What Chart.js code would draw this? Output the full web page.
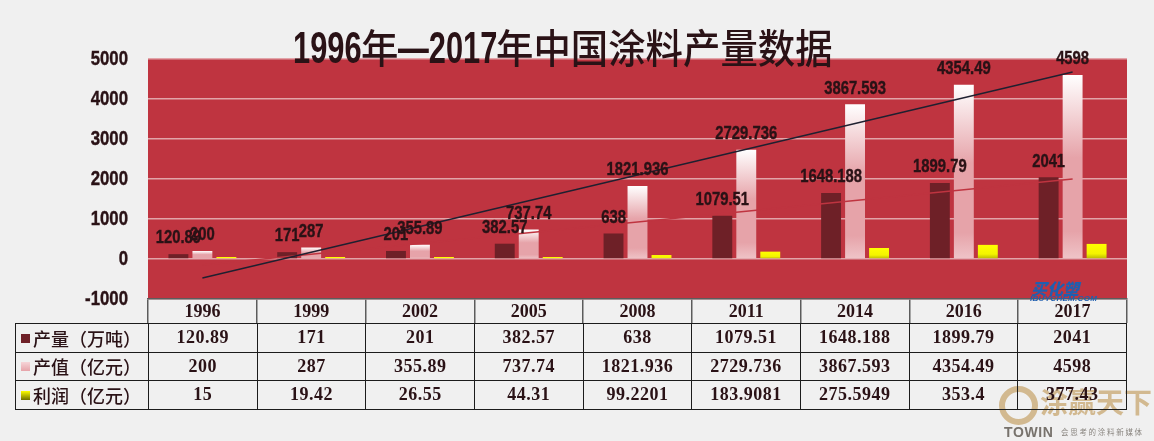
<!DOCTYPE html>
<html lang="zh">
<head>
<meta charset="utf-8">
<title>1996年—2017年中国涂料产量数据</title>
<script src="https://cdn.jsdelivr.net/npm/chart.js@4"></script>
<style>
  html, body { margin: 0; padding: 0; background: #f0f0f0; }
  #wrap { position: relative; width: 1154px; height: 441px; overflow: hidden; }
  #chart { position: absolute; left: 0; top: 0; }
  #title {
    position: absolute; left: 293px; top: 17px; white-space: nowrap; line-height: 56px;
    color: #2a1216;
  }
  #title span { display: inline-block; transform-origin: left center; white-space: nowrap; }
  #title .num { font: 700 44px "Liberation Sans", sans-serif; transform: scaleX(0.7); }
  #title .han { font: 500 40px "Noto Sans CJK SC", sans-serif; transform: scaleX(0.935); }
  table {
    position: absolute; left: 15px; top: 323px; width: 1112px; table-layout: fixed;
    border-collapse: collapse; font: 700 18px "Liberation Serif", "Noto Sans CJK SC", serif;
    color: #2a1216; letter-spacing: 0.5px;
  }
  td { border: 1.5px solid #1c1c1c; height: 27.5px; padding: 0; text-align: center; }
  td.head { text-align: left; white-space: nowrap; font: 500 18px "Noto Sans CJK SC", sans-serif; letter-spacing: 0; }
  .key { display: inline-block; width: 9px; height: 9px; margin: 0 3px 5px 5px; vertical-align: middle; }
  .mark { position: absolute; white-space: nowrap; }
</style>
</head>
<body>
<div id="wrap">
  <canvas id="chart" width="1154" height="441"></canvas>
  <div id="title"><span class="num" style="width:68px">1996</span><span class="han" style="width:37px">年</span><span class="num" style="width:98px">—2017</span><span class="han" style="width:337px">年中国涂料产量数据</span></div>
  <div class="mark" style="left:1031px;top:276px;font:italic 900 16px 'Noto Sans CJK SC';color:#1f5fb0">买化塑</div>
  <div class="mark" style="left:1030px;top:294px;font:italic 700 8px 'Liberation Sans';color:#1f5fb0;letter-spacing:.3px">IBUYCHEM.COM</div>
  <div class="mark" style="left:999px;top:386px;width:27px;height:27px;border:6px solid #d2b990;border-radius:50%"></div>
  <div class="mark" style="left:1040px;top:381px;font:700 28px 'Noto Sans CJK SC';color:#d2b990">涂赢天下</div>
  <div class="mark" style="left:1004px;top:424px;font:700 14px 'Liberation Sans';color:#77726c;letter-spacing:.6px">TOWIN</div>
  <div class="mark" style="left:1061px;top:426px;font:400 7.5px 'Noto Sans CJK SC';color:#8a8680;letter-spacing:1.7px">会思考的涂料新媒体</div>
  <table id="dataTable"></table>
</div>
<script>
const years = ["1996", "1999", "2002", "2005", "2008", "2011", "2014", "2016", "2017"];
const output = [120.89, 171, 201, 382.57, 638, 1079.51, 1648.188, 1899.79, 2041];
const outputValue = [200, 287, 355.89, 737.74, 1821.936, 2729.736, 3867.593, 4354.49, 4598];
const profit = [15, 19.42, 26.55, 44.31, 99.2201, 183.9081, 275.5949, 353.4, 377.43];
const valueTrend = [-475, null, null, null, null, null, null, null, 4675];
const outputTrend = [-150, null, null, null, null, null, null, null, 2000];

const rowNames = ["产量（万吨）", "产值（亿元）", "利润（亿元）"];
const rowKeys = [
  "#6e2027",
  "linear-gradient(#f6d5d8, #e6a3a9)",
  "linear-gradient(#ffff00, #6f6f00)"
];

// each bar gets its own gradient, top of bar to the zero line
function barGradient(stops) {
  return function (ctx) {
    const y = ctx.chart.scales.y;
    if (!y || ctx.type !== "data") return stops[0][1];
    const top = y.getPixelForValue(ctx.dataset.data[ctx.dataIndex]);
    const bottom = y.getPixelForValue(0);
    if (!isFinite(top) || !isFinite(bottom)) return stops[0][1];
    const g = ctx.chart.ctx.createLinearGradient(0, top, 0, bottom);
    stops.forEach(s => g.addColorStop(s[0], s[1]));
    return g;
  };
}

const plotBackground = {
  id: "plotBackground",
  beforeDraw(chart) {
    const a = chart.chartArea;
    chart.ctx.fillStyle = "#bf3440";
    chart.ctx.fillRect(a.left, a.top, a.width, a.height);
  }
};

// reference text is condensed and no narrow face is installed, so squeeze it
function narrowText(c, text, x, y, squeeze) {
  c.save();
  c.translate(x, y);
  c.scale(squeeze, 1);
  c.fillText(text, 0, 0);
  c.strokeText(text, 0, 0);
  c.restore();
}

// no datalabels plugin available, so the labels are written here
const barLabels = {
  id: "barLabels",
  afterDatasetsDraw(chart) {
    const c = chart.ctx;
    c.save();
    c.font = '700 19px "Liberation Sans", sans-serif';
    c.fillStyle = "#2a1216";
    c.strokeStyle = "#2a1216";
    c.lineWidth = 0.4;
    c.textAlign = "center";
    c.textBaseline = "middle";
    [0, 1].forEach(i => {
      chart.getDatasetMeta(i).data.forEach((bar, k) => {
        narrowText(c, String(chart.data.datasets[i].data[k]), bar.x, bar.y - 16, 0.78);
      });
    });
    c.restore();
  }
};

const yTickLabels = {
  id: "yTickLabels",
  afterDraw(chart) {
    const c = chart.ctx;
    const y = chart.scales.y;
    c.save();
    c.font = '700 20px "Liberation Sans", sans-serif';
    c.fillStyle = "#2a1216";
    c.strokeStyle = "#2a1216";
    c.lineWidth = 0.4;
    c.textAlign = "right";
    c.textBaseline = "middle";
    y.ticks.forEach((t, i) => narrowText(c, t.label, chart.chartArea.left - 20, y.getPixelForTick(i), 0.84));
    c.restore();
  }
};

new Chart(document.getElementById("chart"), {
  data: {
    labels: years,
    datasets: [
      {
        type: "bar", label: "产量（万吨）", data: output, order: 2,
        backgroundColor: "#6e2027"
      },
      {
        type: "bar", label: "产值（亿元）", data: outputValue, order: 2,
        backgroundColor: barGradient([[0, "#ffffff"], [0.45, "#e6a3a9"], [0.85, "#e6a3a9"], [1, "#efc4c8"]])
      },
      {
        type: "bar", label: "利润（亿元）", data: profit, order: 2, minBarLength: 2,
        backgroundColor: barGradient([[0, "#ffff00"], [0.65, "#f4f400"], [1, "#b4b400"]])
      },
      {
        type: "line", label: "产值趋势", data: valueTrend, order: 1, spanGaps: true,
        borderColor: "#1f2030", borderWidth: 1.3, pointRadius: 0
      },
      {
        type: "line", label: "产量趋势", data: outputTrend, order: 1, spanGaps: true,
        borderColor: "#bf3440", borderWidth: 1.3, pointRadius: 0
      }
    ]
  },
  options: {
    responsive: false,
    animation: false,
    devicePixelRatio: 1,
    layout: { padding: { left: 100, right: 27, top: 59, bottom: 118 } },
    datasets: { bar: { categoryPercentage: 0.6615, barPercentage: 0.83 } },
    plugins: { legend: { display: false }, title: { display: false }, tooltip: { enabled: false } },
    scales: {
      x: {
        afterFit(scale) { scale.height = 24; },
        border: { color: "#5c5c5c", width: 1.5 },
        grid: { drawOnChartArea: false, drawTicks: true, tickLength: 24, color: "#5c5c5c", lineWidth: 1.5 },
        ticks: { padding: -21, color: "#2a1216", font: { family: '"Liberation Serif", serif', size: 18, weight: "700" } }
      },
      y: {
        min: -1000,
        max: 5000,
        afterFit(scale) { scale.width = 48; },
        border: { display: false },
        grid: { color: "#e2a4a9", lineWidth: 1.5, drawTicks: false },
        ticks: {
          stepSize: 1000, padding: 20, color: "transparent",
          callback: v => String(v),
          font: { family: '"Liberation Sans", sans-serif', size: 20, weight: "700" }
        }
      }
    }
  },
  plugins: [plotBackground, barLabels, yTickLabels]
});

// data table under the plot, columns line up with the categories
const rows = [output, outputValue, profit];
document.getElementById("dataTable").innerHTML =
  '<colgroup><col style="width:133px">' + years.map(() => "<col>").join("") + "</colgroup>" +
  rows.map((row, i) =>
    '<tr><td class="head"><span class="key" style="background:' + rowKeys[i] + '"></span>' + rowNames[i] + "</td>" +
    row.map(v => "<td>" + v + "</td>").join("") + "</tr>"
  ).join("");
</script>
</body>
</html>
